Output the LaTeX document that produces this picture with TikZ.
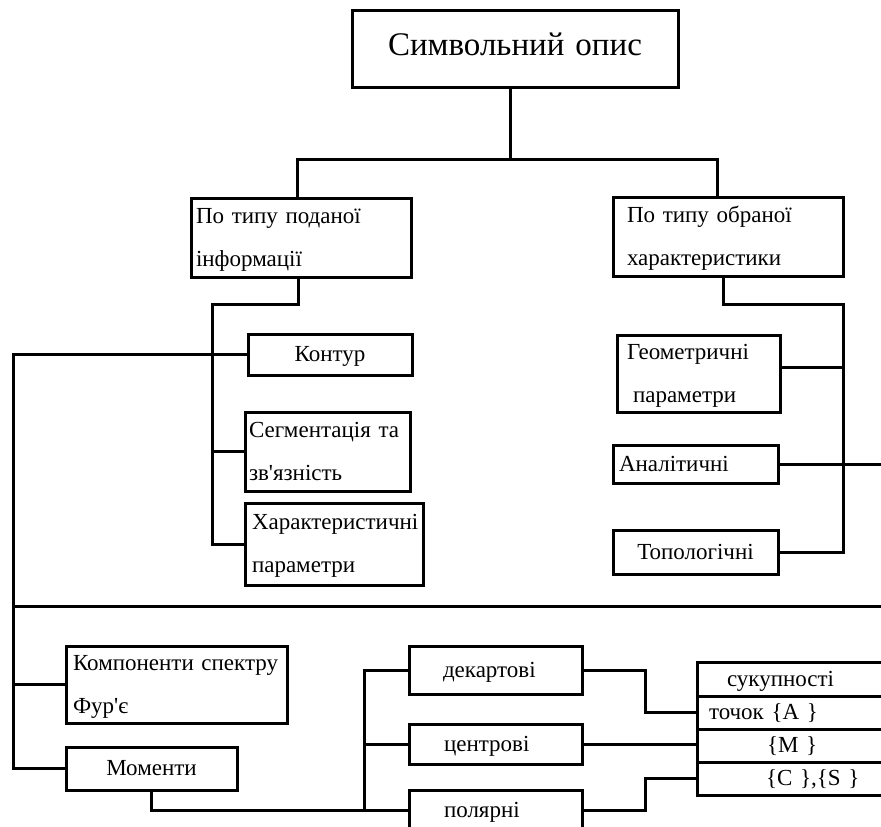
\documentclass[tikz,border=0pt]{standalone}
\usepackage{fontspec}
\setmainfont{Liberation Serif}

\tikzset{
  box/.style={draw, rectangle, line width=3pt, anchor=north west, inner sep=0pt, outer sep=0pt, align=left,
    text height=16pt, text depth=2pt, font=\fontsize{23}{43}\selectfont},
  twoline/.style={text depth=45pt},
  link/.style={line width=3pt}
}

\begin{document}
\begin{tikzpicture}[x=1pt,y=-1pt]
\useasboundingbox (0,0) rectangle (881,827);
\clip (0,0) rectangle (881,827);
\node[box, align=center, minimum width=326, minimum height=77, text width=310pt, text height=22pt, text depth=9pt,
  font=\fontsize{33}{40}\selectfont] (title) at (352,10) {Символьний опис};
  \node[box, twoline, minimum width=220, minimum height=79, text width=210pt] (typ1) at (191,198) {По типу поданої\\інформації};
  \node[box, twoline, minimum width=230, minimum height=79, text width=202pt] (typ2) at (613,197) {По типу обраної\\характеристики};
  \node[box, align=center, minimum width=164, minimum height=41, text width=150pt] (kontur) at (248,334) {Контур};
  \node[box, twoline, minimum width=165, minimum height=79, text width=157pt] (segm) at (245,412) {Сегментація та\\зв\textquotesingle язність};
  \node[box, twoline, minimum width=178, minimum height=82, text width=164pt] (khar) at (245,503) {Характеристичні\\параметри};
  \node[box, twoline, minimum width=163, minimum height=77, text width=143pt] (geom) at (617,335) {Геометричні\\\hspace*{6pt}параметри};
  \node[box, minimum width=165, minimum height=38, text width=153pt] (anal) at (613,445) {Аналітичні};
  \node[box, align=center, minimum width=165, minimum height=44, text width=150pt] (topo) at (613,530) {Топологічні};
  \node[box, twoline, minimum width=221, minimum height=77, text width=207pt] (furje) at (66,646) {Компоненти спектру\\Фур\textquotesingle є};
  \node[box, align=center, minimum width=171, minimum height=43, text width=150pt] (moment) at (66,747) {Моменти};
  \node[box, minimum width=173, minimum height=48, text width=105pt] (dekart) at (409,646) {декартові};
  \node[box, minimum width=173, minimum height=40, text width=103pt] (centr) at (409,724) {центрові};
  \node[box, minimum width=173, minimum height=40, text width=103pt] (polar) at (409,790) {полярні};
  \node[box, minimum width=220, minimum height=34, text width=196pt] (tabA) at (697,662) {\hspace*{18pt}сукупності};
  \node[box, minimum width=220, minimum height=33, text width=196pt] (tabB) at (697,696) {точок \{A \}};
  \node[box, minimum width=220, minimum height=33, text width=196pt] (tabC) at (697,729) {\hspace*{58pt}\{M \}};
  \node[box, minimum width=220, minimum height=33, text width=196pt] (tabD) at (697,762) {\hspace*{57pt}\{C \},\{S \}};
\coordinate (lbus) at (212,304);
\coordinate (lrail) at (13,0);
\coordinate (mbus) at (364,0);
\coordinate (rbus) at (843,0);
\coordinate (cut) at (881,606);
  \draw[link] ([xshift=-5pt]title.south) -- ++(0,72) coordinate (fork);
  \draw[link] ([xshift=-4pt]typ1.north) |- (fork) -| ([xshift=-11pt]typ2.north);
  \draw[link] ([xshift=-3pt]typ1.south) |- (lbus) |- (khar.west);
  \draw[link] (segm.west) -- (lbus |- segm.west);
  \draw[link] (kontur.west) -| (lrail |- moment.west) -- (moment.west);
  \draw[link] (furje.west) -- (lrail |- furje.west);
  \draw[link] (lrail |- cut) -- (cut);
  \draw[link] (moment.south) |- (polar.west);
  \draw[link] (dekart.west) -| (mbus |- polar.west);
  \draw[link] (centr.west) -- (mbus |- centr.west);
  \draw[link] (dekart.east) -- ++(63,0) |- (tabB.west);
  \draw[link] (centr.east) -- (centr.east -| tabC.west);
  \draw[link] (polar.east) -- ++(63,0) |- (tabD.west);
  \draw[link] ([xshift=-5pt]typ2.south) -- ++(0,28) -| (rbus |- topo.east) -- (topo.east);
  \draw[link] ([yshift=6pt]geom.east) -- +(63,0);
  \draw[link] (anal.east) -- (anal.east -| cut);
\end{tikzpicture}
\end{document}
